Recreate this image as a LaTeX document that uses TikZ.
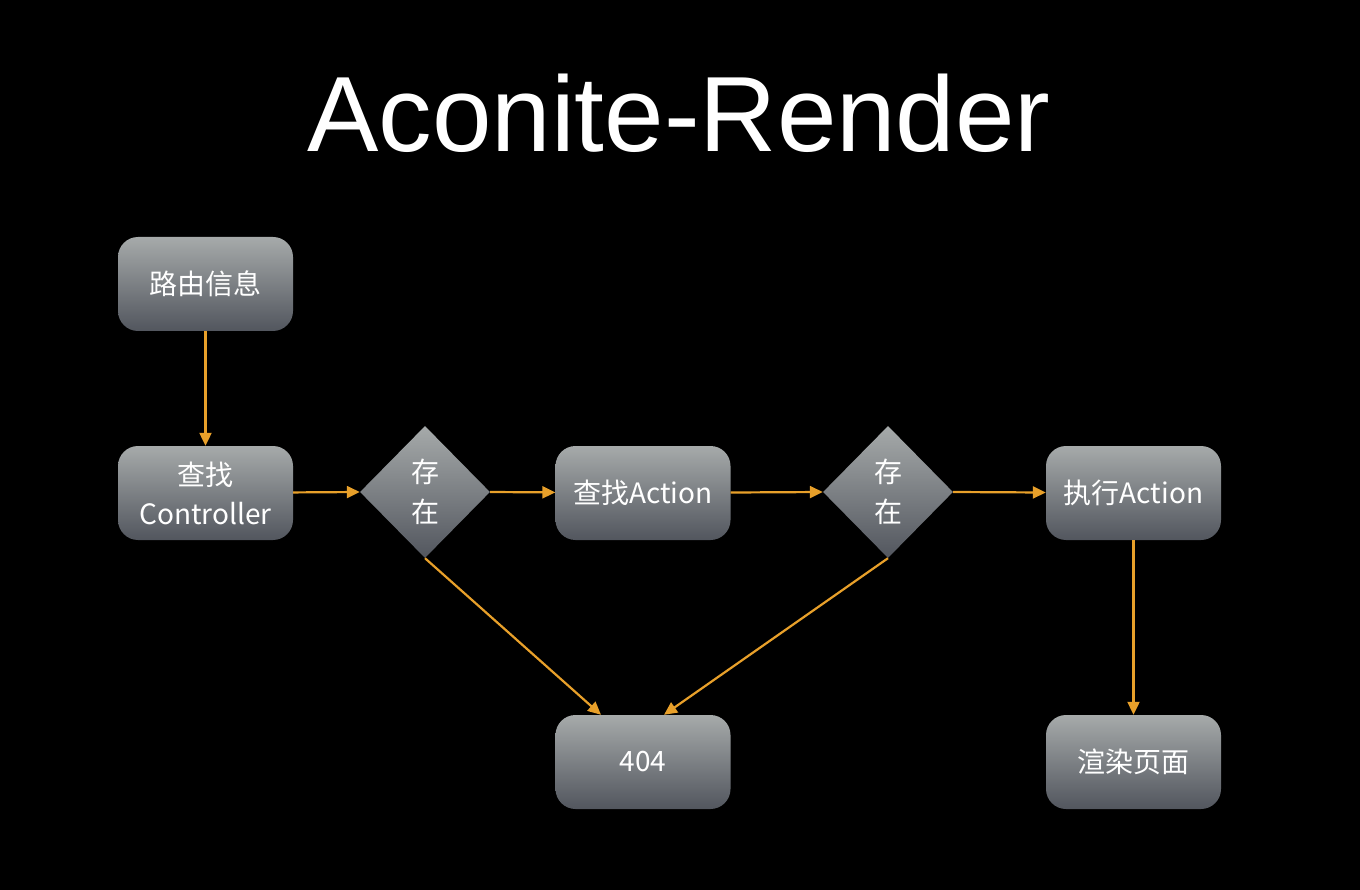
\documentclass[tikz,border=0pt]{standalone}
\usepackage{fontspec}
\setmainfont{Liberation Sans}
\newfontfamily\cjk{Noto Sans CJK SC}
\usetikzlibrary{shapes.geometric,arrows.meta}

\definecolor{boxtop}{RGB}{166,170,170}
\definecolor{boxbot}{RGB}{82,86,94}
\definecolor{flow}{RGB}{232,160,42}

\begin{document}
\begin{tikzpicture}[x=1pt, y=-1pt,
  box/.style={rounded corners=20pt, top color=boxtop, bottom color=boxbot,
    minimum width=175pt, minimum height=94pt, inner sep=0pt,
    text=white, align=center, font=\cjk\fontsize{28}{39}\selectfont},
  check/.style={diamond, top color=boxtop, bottom color=boxbot,
    minimum width=130pt, minimum height=132pt, inner sep=0pt,
    text=white, align=center, font=\cjk\fontsize{28}{40}\selectfont},
  flowline/.style={draw=flow, line width=2.2pt,
    -{Triangle[length=13pt,width=12pt]}}]

  % background
  \fill[black] (0,0) rectangle (1360,890);
  \useasboundingbox (0,0) rectangle (1360,890);

  % title
  \node[text=white, anchor=base, font=\fontsize{107}{115}\selectfont]
    (title) at (679,152) {Aconite-Render};

  % --- boxes ---
  \node[box] (route)  at (205.5,284) {路由信息};
  \node[box] (ctrl)   at (205.5,493) {查找\\Controller};
  \node[check] (has1) at (425,492) {存\\在};
  \node[box] (action) at (643,493) {查找Action};
  \node[check] (has2) at (888,492) {存\\在};
  \node[box] (run)    at (1133.5,493) {执行Action};
  \node[box] (nf)     at (643,762) {404};
  \node[box] (render) at (1133.5,762) {渲染页面};

  % --- arrows ---
  \draw[flowline] (route) -- (ctrl);
  \draw[flowline] (ctrl) -- (has1.west);
  \draw[flowline] (has1.east) -- (action);
  \draw[flowline] (action) -- (has2.west);
  \draw[flowline] (has2.east) -- (run);
  \draw[flowline] (run) -- (render);
  \draw[flowline] (has1.south) -- ([xshift=-42pt]nf.north);
  \draw[flowline] (has2.south) -- ([xshift=21pt]nf.north);

\end{tikzpicture}
\end{document}
